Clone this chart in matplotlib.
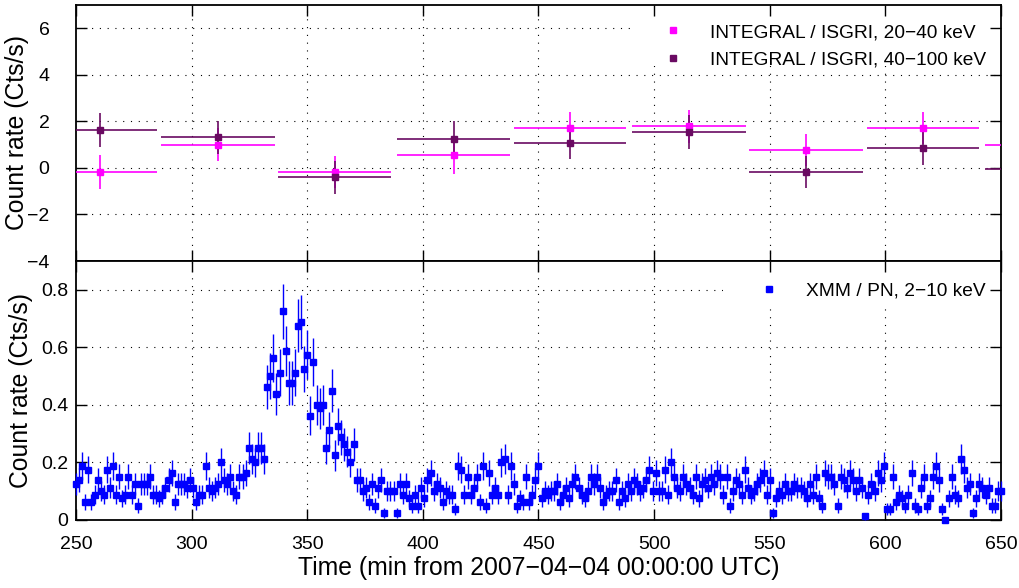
import numpy as np
import matplotlib
matplotlib.use("Agg")
import matplotlib.pyplot as plt
from matplotlib.lines import Line2D
from matplotlib.patches import Rectangle

plt.rcParams['font.family'] = ['Liberation Sans', 'DejaVu Sans']

# ---------------- INTEGRAL / ISGRI (top panel) ----------------
isgri_t = [260.4, 311.5, 361.8, 413.3, 463.6, 515.1, 565.6, 616.3, 667.6]
isgri_halfwidth = [24.6, 24.65, 24.4, 24.45, 24.2, 24.65, 24.65, 24.25, 24.5]
isgri_lo = [-0.17, 1.00, -0.17, 0.54, 1.71, 1.78, 0.77, 1.71, 1.00]
isgri_lo_err = [0.74, 0.72, 0.70, 0.80, 0.68, 0.71, 0.70, 0.68, 0.70]
isgri_hi = [1.62, 1.31, -0.41, 1.24, 1.07, 1.55, -0.19, 0.84, -0.03]
isgri_hi_err = [0.73, 0.71, 0.70, 0.78, 0.69, 0.73, 0.69, 0.71, 0.70]

# ---------------- XMM / PN (bottom panel), 80 s bins ----------------
xmm_t0 = 250.0          # min
xmm_bin_s = 80.0        # s
xmm_counts = [
    10, 11, 15, 5, 14, 5, 7, 11, 8, 7, 14, 9, 15, 7, 12, 6, 7, 12, 7, 10,
    4, 10, 10, 10, 12, 7, 7, 6, 7, 9, 11, 13, 5, 10, 10, 10, 9, 11, 9, 5,
    7, 7, 15, 9, 8, 9, 10, 16, 11, 10, 12, 8, 7, 12, 12, 13, 20, 17, 16, 20,
    20, 17, 37, 40, 45, 35, 41, 58, 47, 38, 38, 41, 54, 55, 42, 46, 29, 44, 32, 31,
    32, 20, 25, 36, 18, 26, 23, 21, 19, 16, 21, 11, 11, 8, 9, 5, 10, 4, 9, 11,
    2, 8, 8, 8, 2, 10, 7, 10, 6, 4, 7, 4, 9, 6, 11, 13, 8, 10, 9, 5,
    8, 7, 7, 3, 15, 14, 7, 12, 7, 9, 12, 5, 15, 4, 13, 7, 9, 7, 16, 17,
    7, 15, 10, 4, 6, 5, 12, 5, 7, 11, 15, 6, 8, 7, 8, 8, 10, 5, 7, 9,
    6, 10, 12, 9, 7, 6, 8, 12, 10, 12, 9, 5, 7, 8, 8, 11, 5, 8, 6, 10,
    8, 11, 10, 8, 9, 11, 14, 8, 13, 8, 8, 14, 7, 16, 12, 9, 8, 12, 10, 9,
    7, 12, 6, 10, 11, 9, 12, 10, 13, 12, 7, 12, 4, 8, 11, 10, 7, 14, 9, 7,
    8, 10, 11, 13, 7, 11, 2, 6, 8, 7, 10, 8, 8, 10, 9, 9, 8, 6, 10, 7,
    12, 6, 4, 13, 12, 12, 10, 4, 12, 11, 9, 13, 11, 8, 11, 9, 1, 7, 10, 8,
    13, 11, 15, 3, 3, 12, 5, 7, 6, 4, 7, 13, 4, 3, 9, 12, 4, 6, 12, 15,
    11, 3, 0, 6, 12, 7, 6, 17, 14, 9, 10, 2, 6, 10, 9, 7, 9, 4, 4, 8,
    8,
]

x_ticks = [250, 300, 350, 400, 450, 500, 550, 600, 650]
top_yticks = [-4, -2, 0, 2, 4, 6]
bot_yticks = [0, 0.2, 0.4, 0.6, 0.8]
bot_yticklabels = ['0', '0.2', '0.4', '0.6', '0.8']

col_lo = '#ff00ff'
col_hi = '#6a0a62'
col_xmm = '#0000ff'

counts = np.array(xmm_counts, dtype=float)
xmm_rate = counts / xmm_bin_s
xmm_err = np.sqrt(counts) / xmm_bin_s
xmm_t = xmm_t0 + np.arange(len(counts)) * xmm_bin_s / 60.0

fig = plt.figure(figsize=(10.2, 5.88), dpi=100)
W, H = 1020, 588
L, R = 76 / W, 1001 / W
ax1 = fig.add_axes([L, 1 - 261 / H, R - L, (261 - 5) / H])
ax2 = fig.add_axes([L, 1 - 520 / H, R - L, (520 - 261) / H])

ms = 3.8
ax1.errorbar(isgri_t, isgri_lo, xerr=isgri_halfwidth, yerr=isgri_lo_err, fmt='s',
             color=col_lo, ms=ms, elinewidth=1.2, capsize=0, zorder=3)
ax1.errorbar(isgri_t, isgri_hi, xerr=isgri_halfwidth, yerr=isgri_hi_err, fmt='s',
             color=col_hi, ms=ms, elinewidth=1.2, capsize=0, zorder=3)

ax2.errorbar(xmm_t, xmm_rate, yerr=xmm_err, fmt='s', color=col_xmm, ms=ms,
             elinewidth=1.0, capsize=0, zorder=3, clip_on=False)

grid_kw = dict(linestyle=(0, (1, 6)), color='black', linewidth=0.8, zorder=0.4)
for ax, yt in ((ax1, top_yticks), (ax2, bot_yticks)):
    ax.set_xlim(250, 650)
    ax.set_xticks(x_ticks)
    ax.tick_params(direction='in', top=True, right=True, length=8, width=1.0,
                   labelsize=14)
    ax.tick_params(axis='x', pad=11.5)
    for xv in x_ticks[1:-1]:
        ax.axvline(xv, **grid_kw)
    for s in ax.spines.values():
        s.set_linewidth(1.3)

ax1.set_ylim(-4, 7)
ax1.set_yticks(top_yticks)
ax1.tick_params(labelbottom=False)
ax1.tick_params(axis='y', pad=19)
for yv in top_yticks[1:]:
    ax1.axhline(yv, **grid_kw)
ax2.set_ylim(0, 0.9)
ax2.set_yticks(bot_yticks)
ax2.set_yticklabels(bot_yticklabels)
ax2.tick_params(axis='y', pad=5.5)
for yv in bot_yticks[1:]:
    ax2.axhline(yv, **grid_kw)

# white boxes behind the legends (hide the grid there)
ax1.add_patch(Rectangle((0.605, 0.76), 0.395, 0.24, transform=ax1.transAxes,
                        facecolor='white', edgecolor='none', zorder=1))
ax2.add_patch(Rectangle((0.70, 0.835), 0.30, 0.165, transform=ax2.transAxes,
                        facecolor='white', edgecolor='none', zorder=1))

ax1.set_ylabel('Count rate (Cts/s)', fontsize=17.8)
ax2.set_ylabel('Count rate (Cts/s)', fontsize=17.8)
ax1.yaxis.set_label_coords(-0.051, 0.5)
ax2.yaxis.set_label_coords(-0.047, 0.5)
ax2.set_xlabel('Time (min from 2007\u221204\u221204 00:00:00 UTC)', fontsize=17.8, labelpad=2)

h1 = [Line2D([], [], marker='s', ls='none', color=col_lo, ms=ms,
             label='INTEGRAL / ISGRI, 20\u221240 keV'),
      Line2D([], [], marker='s', ls='none', color=col_hi, ms=ms,
             label='INTEGRAL / ISGRI, 40\u2212100 keV')]
ax1.legend(handles=h1, loc='upper left', bbox_to_anchor=(0.636, 0.927), frameon=False,
           fontsize=13.8, handlelength=0.92, handletextpad=1.45, borderpad=0,
           borderaxespad=0, labelspacing=0.51)
h2 = [Line2D([], [], marker='s', ls='none', color=col_xmm, ms=ms,
             label='XMM / PN, 2\u221210 keV')]
ax2.legend(handles=h2, loc='upper left', bbox_to_anchor=(0.740, 0.917), frameon=False,
           fontsize=13.8, handlelength=0.92, handletextpad=1.45, borderpad=0,
           borderaxespad=0)

fig.savefig('out.png', dpi=100)
